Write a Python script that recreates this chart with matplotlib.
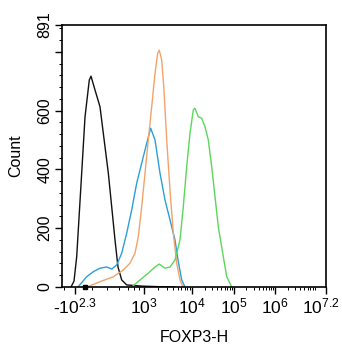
import numpy as np
import matplotlib.pyplot as plt
from matplotlib.transforms import ScaledTranslation

plt.rcParams['font.family'] = ['Liberation Sans', 'DejaVu Sans']
plt.rcParams['mathtext.fontset'] = 'custom'
plt.rcParams['mathtext.rm'] = 'Liberation Sans'
plt.rcParams['mathtext.it'] = 'Liberation Sans'

# histogram outlines, x in display channels (0..264), y in counts
black_x = [9, 12, 14.7, 19.7, 23, 27.3, 29, 33, 38, 41.3, 46.3, 49.7, 53, 56, 59.7, 64.7, 80, 98, 113]
black_y = [0, 20, 103, 388, 578, 704, 717, 670, 613, 523, 388, 273, 160, 68, 24, 7, 3, 1, 0]

blue_x = [16, 24.7, 31.3, 38, 44.7, 49.7, 54.7, 59.7, 64.7, 69.7, 74.7, 79.7, 84.7, 88.7,
          93, 98, 103, 108, 113, 116, 119.7, 123]
blue_y = [0, 35, 52, 64, 68, 61, 75, 115, 183, 262, 353, 421, 489, 540,
          500, 387, 296, 228, 160, 92, 24, 0]

orange_x = [24.7, 38, 51.3, 61.3, 68, 73, 76.3, 79.7, 83, 86.3, 89.7, 93, 95.7, 97.3,
            99.7, 102, 104.7, 108, 111.3, 114.7, 118, 121]
orange_y = [0, 18, 35, 58, 81, 115, 171, 273, 387, 500, 613, 727, 795, 805,
            772, 670, 500, 330, 183, 81, 24, 0]

green_x = [69.7, 78, 86.3, 93, 97.3, 103, 108, 113, 118, 121.3, 124.7, 128, 131.3, 133,
           136.3, 139.7, 143, 146.3, 149.7, 153, 156.3, 161.3, 164.7, 169.7]
green_y = [0, 24, 47, 68, 78, 64, 68, 92, 160, 273, 409, 523, 602, 608,
           579, 574, 545, 500, 409, 307, 205, 103, 35, 0]

xtick_pos = [13, 82, 130, 172, 213, 264]
xtick_lab = [r'-$10^{2.3}$', r'$10^{3}$', r'$10^{4}$', r'$10^{5}$', r'$10^{6}$', r'$10^{7.2}$']
ytick_pos = [0, 200, 400, 600, 800, 891]
ytick_lab = ['0', '200', '400', '600', '', '891']

fig = plt.figure(figsize=(3.42, 3.5), dpi=100)
ax = fig.add_axes([62 / 342, 1 - 287 / 350, 264 / 342, 262 / 350])

ax.plot(black_x, black_y, color='#111111', lw=1.0)
ax.plot(blue_x, blue_y, color='#2b9fd8', lw=1.0)
ax.plot(orange_x, orange_y, color='#f2a36c', lw=1.0)
ax.plot(green_x, green_y, color='#5cd65c', lw=1.0)

ax.set_xlim(0, 264)
ax.set_ylim(0, 891)

ax.set_xticks(xtick_pos)
ax.set_xticklabels(xtick_lab, fontsize=12.5)
# minor ticks: log positions inside each decade
minor = []
decades = [(82, 130), (130, 172), (172, 213), (213, 255)]
for a, b in decades:
    for k in range(2, 10):
        minor.append(a + (b - a) * np.log10(k))
minor += [2, 30, 45, 57, 66, 72, 77]
ax.set_xticks(minor, minor=True)
ax.set_yticks(ytick_pos)
ax.set_yticklabels(ytick_lab, fontsize=11.5, rotation=90, va='center')
ax.set_yticks(np.arange(40, 891, 40), minor=True)

ax.tick_params(axis='both', which='major', direction='out', length=5, width=1, pad=2)
ax.tick_params(axis='both', which='minor', direction='out', length=2.5, width=0.7)
lab = ax.get_xticklabels()[-1]
lab.set_transform(lab.get_transform() + ScaledTranslation(-4 / 72, 0, fig.dpi_scale_trans))

# zero marker on the axis
ax.plot([23], [0], marker='s', ms=3.5, color='black', clip_on=False, zorder=5)

for s in ax.spines.values():
    s.set_linewidth(1.2)

ax.set_xlabel('FOXP3-H', fontsize=11.5)
ax.set_ylabel('Count', fontsize=11.5)
ax.xaxis.set_label_coords(0.5, -0.165)
ax.yaxis.set_label_coords(-0.148, 0.5)

fig.savefig('out.png', dpi=100)
